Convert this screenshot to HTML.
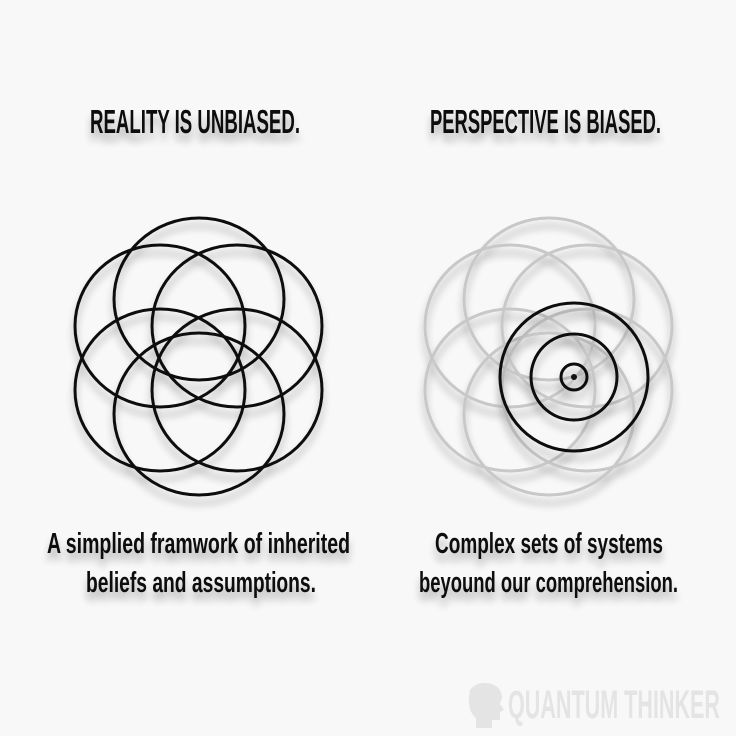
<!DOCTYPE html>
<html><head><style>
html,body{margin:0;padding:0;background:#f8f8f8;}
svg{display:block}
text{font-family:"Liberation Sans Narrow","Liberation Sans",sans-serif;font-weight:bold;}
</style></head><body>
<svg width="736" height="736" viewBox="0 0 736 736" xmlns="http://www.w3.org/2000/svg">
<defs>
<filter id="sh" x="-20%" y="-20%" width="140%" height="160%">
<feGaussianBlur in="SourceAlpha" stdDeviation="4"/>
<feOffset dx="0" dy="8" result="b"/>
<feComponentTransfer><feFuncA type="linear" slope="0.3"/></feComponentTransfer>
<feMerge><feMergeNode/><feMergeNode in="SourceGraphic"/></feMerge>
</filter>
<g id="flower">
<ellipse cx="0" cy="-58" rx="85" ry="81"/>
<ellipse cx="0" cy="57" rx="85" ry="81"/>
<ellipse cx="-39" cy="-31" rx="85" ry="81"/>
<ellipse cx="38" cy="-31" rx="85" ry="81"/>
<ellipse cx="-39" cy="33" rx="85" ry="81"/>
<ellipse cx="38" cy="33" rx="85" ry="81"/>
</g>
</defs>
<rect width="736" height="736" fill="#f8f8f8"/>
<g filter="url(#sh)" fill="#111">
<text x="90" y="133" font-size="33" textLength="210" lengthAdjust="spacingAndGlyphs">REALITY IS UNBIASED.</text>
<text x="430" y="133" font-size="33" textLength="231" lengthAdjust="spacingAndGlyphs">PERSPECTIVE IS BIASED.</text>
<text x="47" y="553" font-size="29" textLength="303" lengthAdjust="spacingAndGlyphs">A simplied framwork of inherited</text>
<text x="86" y="592" font-size="29" textLength="230" lengthAdjust="spacingAndGlyphs">beliefs and assumptions.</text>
<text x="435" y="553" font-size="29" textLength="228" lengthAdjust="spacingAndGlyphs">Complex sets of systems</text>
<text x="419" y="592" font-size="29" textLength="259" lengthAdjust="spacingAndGlyphs">beyound our comprehension.</text>
</g>
<g filter="url(#sh)" fill="none" stroke="#111" stroke-width="3">
<use href="#flower" transform="translate(199,357)"/>
</g>
<g filter="url(#sh)" fill="none" stroke="#c8c8c8" stroke-width="3">
<use href="#flower" transform="translate(549,357)"/>
</g>
<g filter="url(#sh)" fill="none" stroke="#111" stroke-width="3">
<circle cx="574" cy="377" r="74"/>
<circle cx="574" cy="377" r="43"/>
<circle cx="574" cy="377" r="13"/>
</g>
<circle cx="574" cy="377" r="3" fill="#111"/>
<g fill="#e4e4e4">
<path d="M470 690 q8-10 22-6 q10 4 10 14 l-2 6 4 6 -4 2 0 8 -8 0 0 8 -16 0 0-10 q-10-8-6-28z"/>
<text x="508" y="718" font-size="40" textLength="212" lengthAdjust="spacingAndGlyphs">QUANTUM THINKER</text>
</g>
</svg>
</body></html>
